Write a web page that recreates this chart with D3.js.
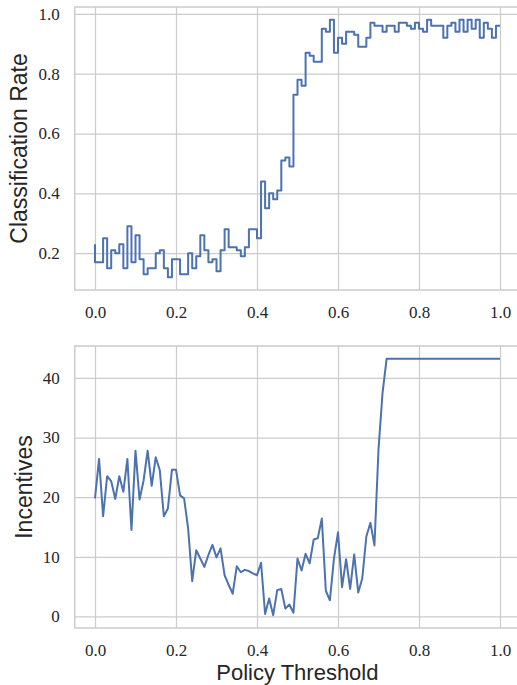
<!DOCTYPE html>
<html lang="en">
<head>
<meta charset="UTF-8">
<title>Classification Rate and Incentives</title>
<script src="https://d3js.org/d3.v7.min.js"></script>
<style>
    body { margin: 0; background: #fff; }
    .grid .tick line { stroke: #cccccc; stroke-width: 1.25; }
    .grid .domain { display: none; }
    .grid .tick text {
        font-family: "Liberation Serif", serif;
        font-size: 17px;
        fill: #262626;
    }
    .frame { fill: none; stroke: #cccccc; stroke-width: 1.5; }
    .axis-title {
        font-family: "Liberation Sans", sans-serif;
        font-size: 23px;
        fill: #262626;
    }
</style>
</head>
<body>
<script>
// threshold grid: 0.00, 0.01, ... 1.00
const thresholds = d3.range(101).map(i => i / 100);

const classificationRate = [
    0.23, 0.17, 0.17, 0.25, 0.15, 0.21, 0.20, 0.23, 0.15, 0.29,
    0.17, 0.26, 0.18, 0.13, 0.15, 0.15, 0.20, 0.21, 0.15, 0.12,
    0.18, 0.18, 0.13, 0.13, 0.20, 0.15, 0.19, 0.26, 0.21, 0.17,
    0.18, 0.14, 0.21, 0.28, 0.22, 0.22, 0.21, 0.19, 0.22, 0.28,
    0.28, 0.25, 0.44, 0.35, 0.40, 0.38, 0.41, 0.51, 0.52, 0.49,
    0.73, 0.78, 0.76, 0.87, 0.86, 0.84, 0.84, 0.95, 0.94, 0.98,
    0.87, 0.92, 0.90, 0.94, 0.94, 0.93, 0.89, 0.89, 0.92, 0.97,
    0.96, 0.96, 0.94, 0.96, 0.96, 0.94, 0.97, 0.97, 0.96, 0.95,
    0.97, 0.95, 0.94, 0.98, 0.96, 0.96, 0.96, 0.92, 0.96, 0.97,
    0.94, 0.98, 0.94, 0.98, 0.95, 0.98, 0.92, 0.97, 0.95, 0.92,
    0.96
];

const incentives = [
    19.8, 26.4, 16.8, 23.5, 22.7, 19.7, 23.5, 20.9, 26.4, 14.5,
    27.8, 19.6, 22.8, 27.8, 21.9, 26.7, 24.5, 16.8, 18.1, 24.6,
    24.6, 20.3, 19.8, 14.7, 5.9, 11.1, 9.7, 8.3, 10.3, 12.0,
    9.9, 11.4, 6.9, 5.3, 3.8, 8.4, 7.4, 7.8, 7.6, 7.2,
    6.9, 9.0, 0.4, 3.0, 0.2, 4.4, 4.6, 1.3, 2.0, 0.6,
    9.7, 7.7, 10.5, 8.9, 12.9, 13.1, 16.4, 4.3, 2.7, 9.7,
    14.1, 4.9, 9.6, 4.6, 10.4, 4.0, 6.4, 13.4, 15.7, 11.9,
    28.0, 37.5, 43.2, 43.2, 43.2, 43.2, 43.2, 43.2, 43.2, 43.2,
    43.2, 43.2, 43.2, 43.2, 43.2, 43.2, 43.2, 43.2, 43.2, 43.2,
    43.2, 43.2, 43.2, 43.2, 43.2, 43.2, 43.2, 43.2, 43.2, 43.2,
    43.2
];

const xTicks = [0, 0.2, 0.4, 0.6, 0.8, 1.0];
const rateTicks = [0.2, 0.4, 0.6, 0.8, 1.0];
const incentiveTicks = [0, 10, 20, 30, 40];

const width = 517, height = 685;
const left = 74.75, right = 520.25;

const svg = d3.select("body")
    .append("svg")
    .attr("width", width)
    .attr("height", height);

// matplotlib-style 5% data margins
function padded(values) {
    const [lo, hi] = d3.extent(values);
    const pad = (hi - lo) * 0.05;
    return [lo - pad, hi + pad];
}

const x = d3.scaleLinear().domain(padded(thresholds)).range([left, right]);

function panel(top, bottom, values, ticks, fmt, curve, title, titleX) {
    const y = d3.scaleLinear().domain(padded(values)).range([bottom, top]);

    svg.append("g")
        .attr("class", "grid")
        .attr("transform", `translate(0,${bottom})`)
        .call(d3.axisBottom(x).tickValues(xTicks).tickFormat(d3.format(".1f"))
            .tickSize(-(bottom - top)).tickPadding(16));

    svg.append("g")
        .attr("class", "grid")
        .attr("transform", `translate(${left},0)`)
        .call(d3.axisLeft(y).tickValues(ticks).tickFormat(fmt)
            .tickSize(-(right - left)).tickPadding(15));

    svg.append("rect")
        .attr("class", "frame")
        .attr("x", left)
        .attr("y", top)
        .attr("width", right - left)
        .attr("height", bottom - top);

    const line = d3.line()
        .x((d, i) => x(thresholds[i]))
        .y(d => y(d))
        .curve(curve);

    svg.append("path")
        .datum(values)
        .attr("fill", "none")
        .attr("stroke", "#4c72b0")
        .attr("stroke-width", 2)
        .attr("stroke-linejoin", "round")
        .attr("d", line);

    svg.append("text")
        .attr("class", "axis-title")
        .attr("transform", `translate(${titleX},${(top + bottom) / 2}) rotate(-90)`)
        .attr("text-anchor", "middle")
        .text(title);
}

panel(7, 290, classificationRate, rateTicks, d3.format(".1f"),
    d3.curveStepBefore, "Classification Rate", 27);
panel(346, 628, incentives, incentiveTicks, d3.format("d"),
    d3.curveLinear, "Incentives", 32);

svg.append("text")
    .attr("class", "axis-title")
    .attr("x", (left + 500 + 20) / 2)
    .attr("y", 680)
    .attr("text-anchor", "middle")
    .style("font-size", "22px")
    .text("Policy Threshold");
</script>
</body>
</html>
